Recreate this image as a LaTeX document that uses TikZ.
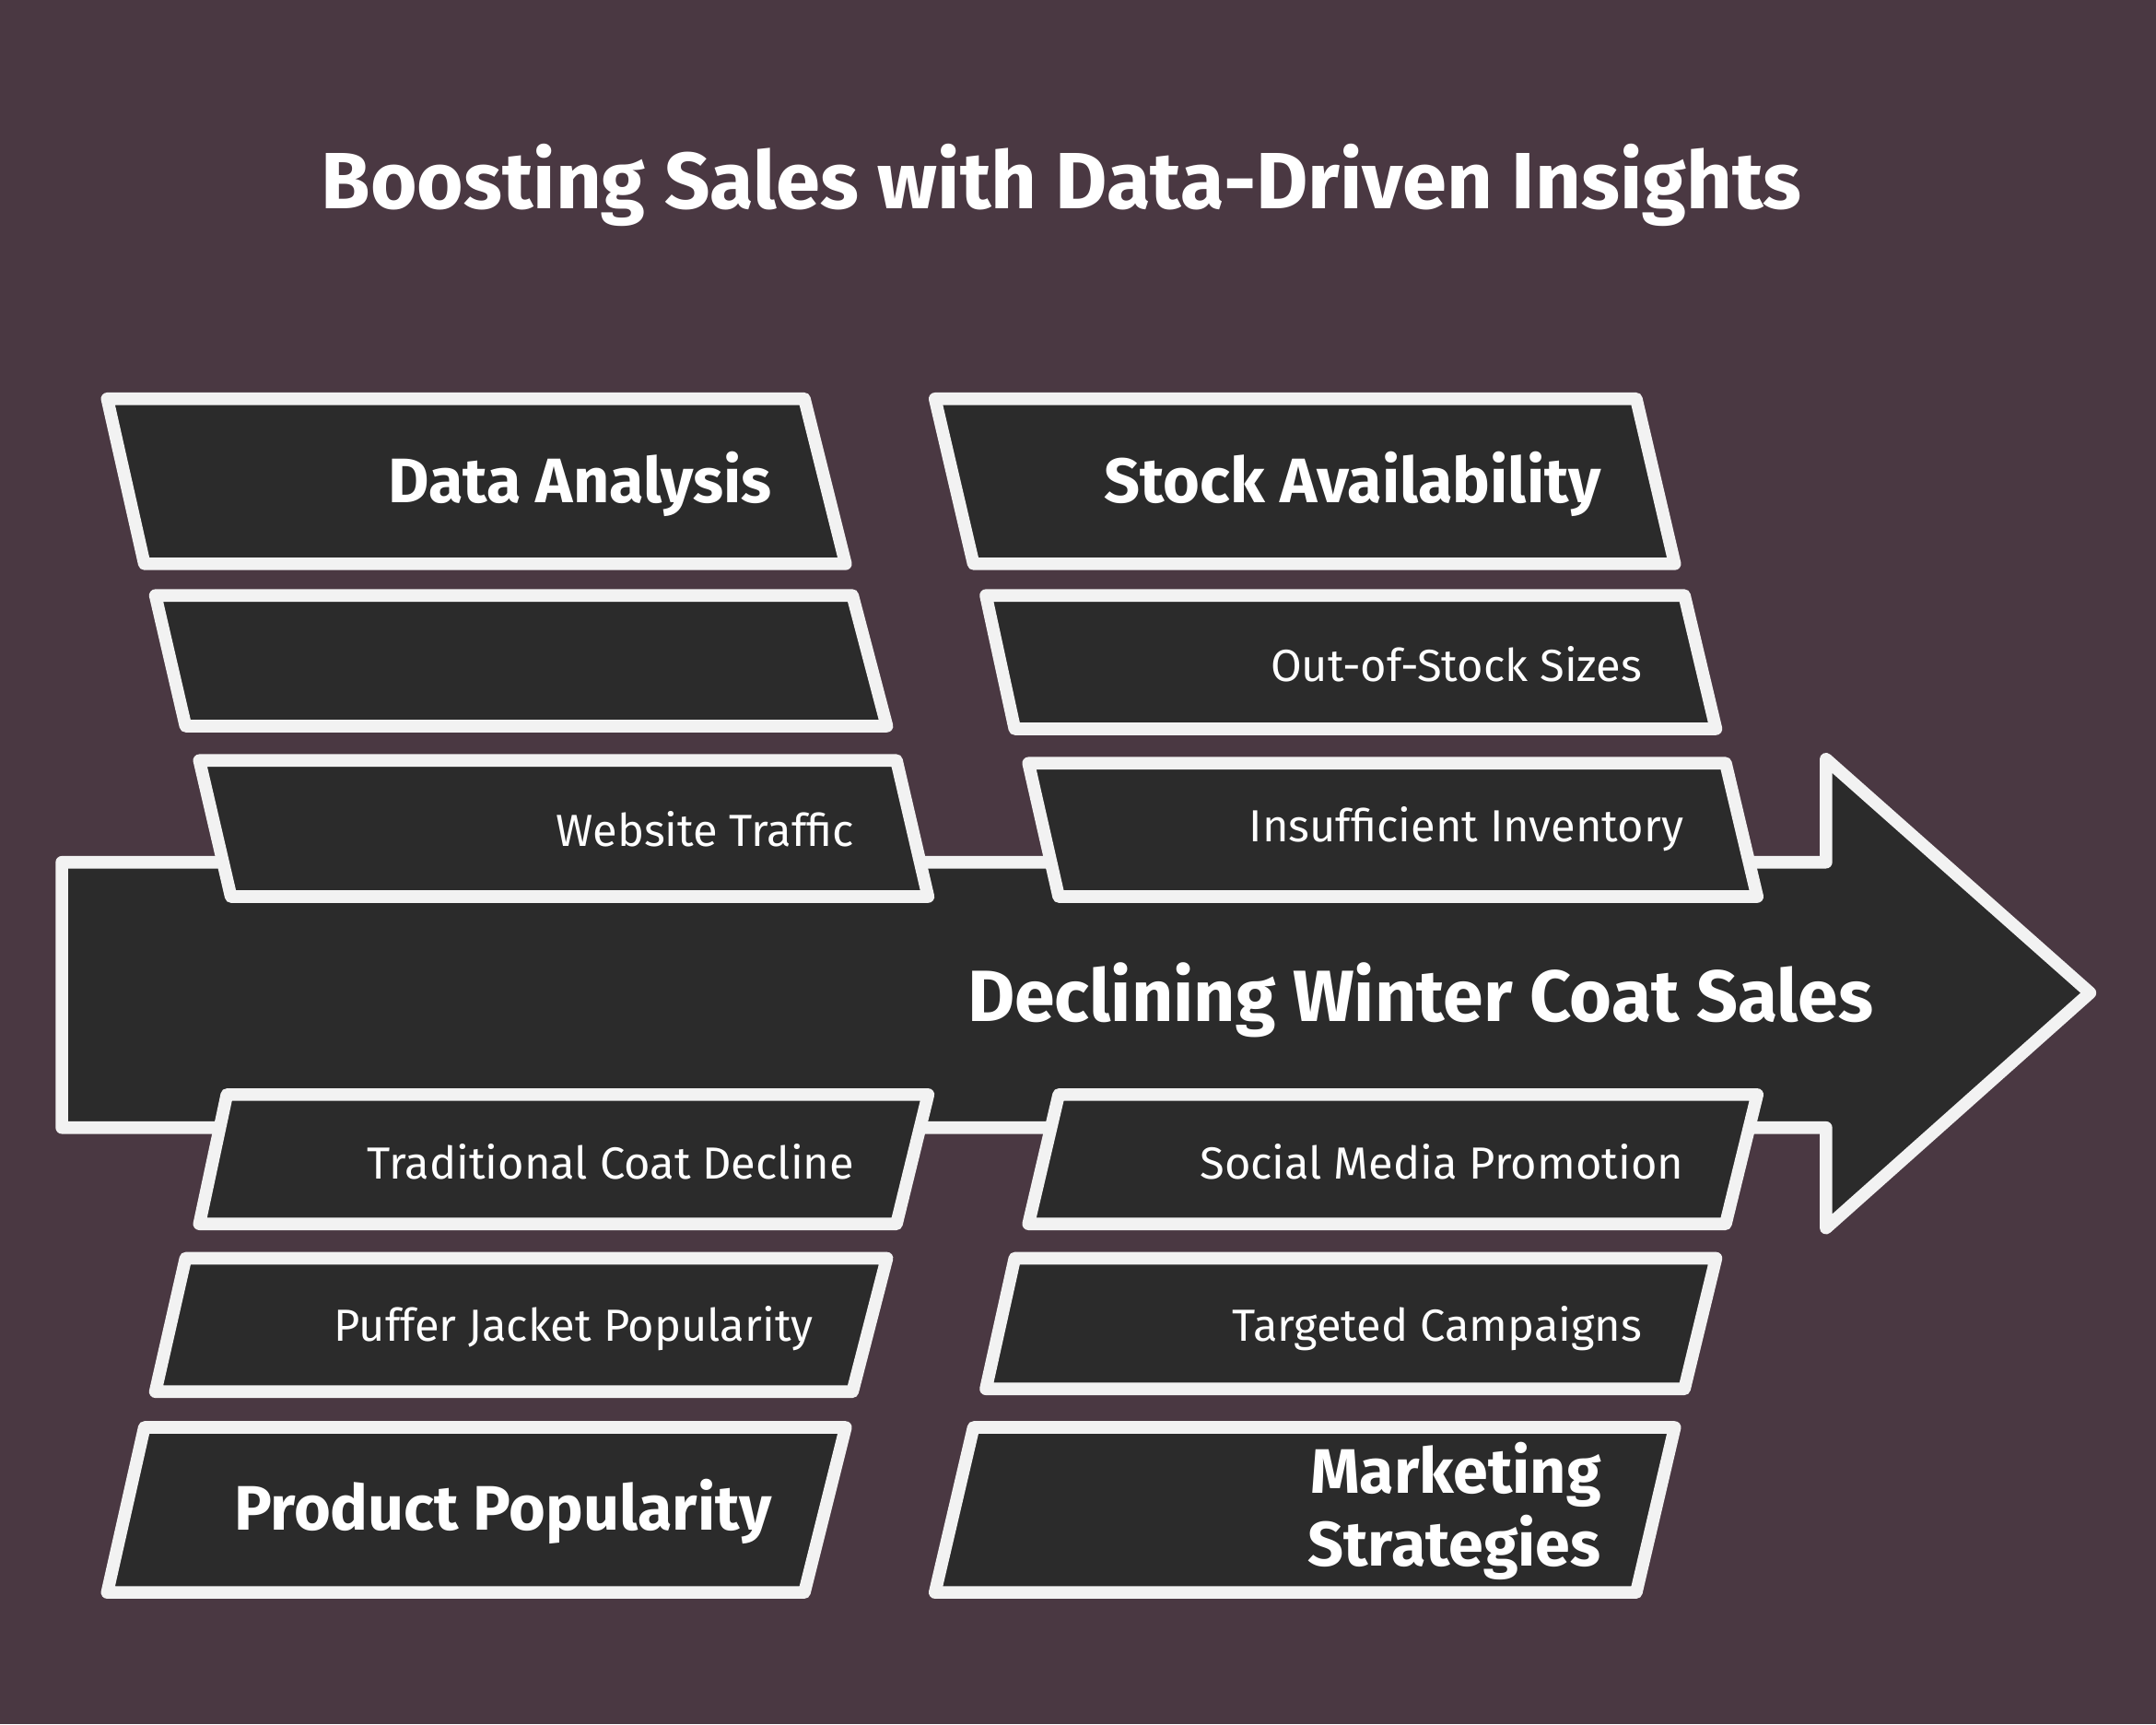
\documentclass[tikz,border=0pt]{standalone}
\usepackage{fontspec}
\setmainfont{Fira Sans}
\definecolor{bgplum}{HTML}{4A3842}
\definecolor{boxfill}{HTML}{2B2B2B}
\tikzset{
  shapebox/.style={draw=white!95!black,fill=boxfill,line width=2.6pt,line join=round},
  headtext/.style={anchor=east,inner sep=0pt,text=white,font=\bfseries\fontsize{13}{15}\selectfont,align=right},
  itemtext/.style={anchor=east,inner sep=0pt,text=white,font=\fontsize{9.3}{11}\selectfont}
}
% parallelogram: top-left x, top-right x, bottom-left x, bottom-right x, top y, bottom y
\newcommand{\causebox}[6]{
  \draw[shapebox] (#1,#5) -- (#2,#5) -- (#4,#6) -- (#3,#6) -- cycle;
}
\begin{document}
\begin{tikzpicture}[x=0.01cm,y=-0.01cm]
  \fill[bgplum] (0,0) rectangle (1568,1254);
  \useasboundingbox (0,0) rectangle (1568,1254);

  \node[text=white,font=\bfseries\fontsize{16.5}{19}\selectfont] (title) at (772,135) {Boosting Sales with Data-Driven Insights};

  % spine
  \draw[shapebox] (45,627) -- (1328,627) -- (1328,552) -- (1520,722) -- (1328,893)
    -- (1328,820) -- (45,820) -- cycle;
  \node[text=white,font=\bfseries\fontsize{15}{18}\selectfont] (effect) at (1033,727) {Declining Winter Coat Sales};

  % upper causes
  \causebox{78}{585}{105}{615}{290}{410}
  \causebox{113}{620}{135}{645}{433}{528}
  \causebox{145}{652}{168}{675}{553}{652}
  \causebox{680}{1190}{708}{1218}{290}{410}
  \causebox{717}{1225}{738}{1248}{433}{530}
  \causebox{748}{1255}{770}{1278}{555}{652}

  % lower causes
  \causebox{165}{675}{145}{652}{796}{890}
  \causebox{135}{645}{113}{620}{915}{1012}
  \causebox{105}{615}{78}{585}{1038}{1158}
  \causebox{770}{1278}{748}{1255}{796}{890}
  \causebox{738}{1248}{717}{1225}{915}{1010}
  \causebox{708}{1218}{680}{1190}{1038}{1158}

  \node[headtext] (dataanalysis) at (562,352) {Data Analysis};
  \node[headtext] (stock) at (1165,352) {Stock Availability};
  \node[itemtext] (outofstock) at (1195,483) {Out-of-Stock Sizes};
  \node[itemtext] (traffic) at (622,603) {Website Traffic};
  \node[itemtext] (inventory) at (1225,603) {Insufficient Inventory};
  \node[itemtext] (traditional) at (622,845) {Traditional Coat Decline};
  \node[itemtext] (social) at (1225,845) {Social Media Promotion};
  \node[itemtext] (puffer) at (592,966) {Puffer Jacket Popularity};
  \node[itemtext] (targeted) at (1195,966) {Targeted Campaigns};
  \node[headtext] (product) at (562,1099) {Product Popularity};
  \node[headtext] (marketing) at (1165,1099) {Marketing\\Strategies};
\end{tikzpicture}
\end{document}
